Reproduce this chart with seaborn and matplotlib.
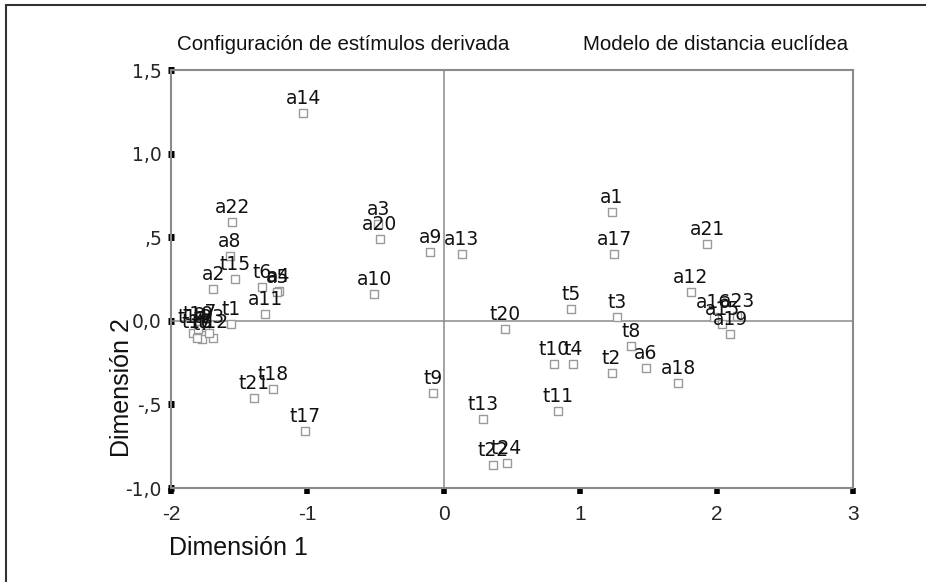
import matplotlib
matplotlib.use("Agg")
import matplotlib.pyplot as plt
from matplotlib.lines import Line2D
import seaborn as sns
import pandas as pd

# Derived stimulus configuration (Euclidean distance model)
labels = ["a1", "a2", "a3", "a4", "a5", "a6", "a7", "a8", "a9", "a10",
          "a11", "a12", "a13", "a14", "a15", "a16", "a17", "a18", "a19", "a20",
          "a21", "a22", "a23",
          "t1", "t2", "t3", "t4", "t5", "t6", "t7", "t8", "t9", "t10",
          "t11", "t12", "t13", "t14", "t15", "t16", "t17", "t18", "t19", "t20",
          "t21", "t22", "t23", "t24"]
dim1 = [1.23, -1.69, -0.48, -1.21, -1.22, 1.48, -1.75, -1.57, -0.10, -0.51,
        -1.31, 1.81, 0.13, -1.03, 2.04, 1.98, 1.25, 1.72, 2.10, -0.47,
        1.93, -1.55, 2.15,
        -1.56, 1.23, 1.27, 0.95, 0.93, -1.33, -1.77, 1.37, -0.08, 0.81,
        0.84, -1.69, 0.29, -1.84, -1.53, -1.81, -1.02, -1.25, -1.80, 0.45,
        -1.39, 0.36, -1.72, 0.46]
dim2 = [0.65, 0.19, 0.58, 0.18, 0.17, -0.28, -0.04, 0.39, 0.41, 0.16,
        0.04, 0.17, 0.40, 1.24, -0.02, 0.02, 0.40, -0.37, -0.08, 0.49,
        0.46, 0.59, 0.03,
        -0.02, -0.31, 0.02, -0.26, 0.07, 0.20, -0.11, -0.15, -0.43, -0.26,
        -0.54, -0.10, -0.59, -0.07, 0.25, -0.10, -0.66, -0.41, -0.05, -0.05,
        -0.46, -0.86, -0.07, -0.85]

x_ticks = [-2, -1, 0, 1, 2, 3]
y_ticks = [-1.0, -0.5, 0.0, 0.5, 1.0, 1.5]
y_tick_labels = ["-1,0", "-,5", "0,0", ",5", "1,0", "1,5"]

df = pd.DataFrame({"label": labels, "Dimensión 1": dim1, "Dimensión 2": dim2})

sns.set_style("white")
plt.rcParams["font.family"] = ["DejaVu Sans"]
narrow = ["Liberation Sans Narrow", "Liberation Sans", "DejaVu Sans"]

fig = plt.figure(figsize=(9.26, 5.82), dpi=100)
ax = fig.add_axes([171 / 926, 1 - 488 / 582, (853 - 171) / 926, (488 - 70) / 582])

sns.scatterplot(data=df, x="Dimensión 1", y="Dimensión 2", ax=ax,
                marker="s", s=28, color="white", edgecolor="#9a9a9a",
                linewidth=1.0, zorder=3, legend=False)

# reference lines through the origin
ax.axvline(0, color="#8a8a8a", lw=1.1, zorder=1)
ax.axhline(0, color="#8a8a8a", lw=1.1, zorder=1)

for lab, x, y in zip(labels, dim1, dim2):
    ax.annotate(lab, (x, y), xytext=(0, 6.5), textcoords="offset points",
                ha="center", va="baseline", fontsize=13.5, color="#111111",
                zorder=4)

ax.set_xlim(-2, 3)
ax.set_ylim(-1.0, 1.5)
ax.set_xticks(x_ticks)
ax.set_xticklabels([str(v) for v in x_ticks], family=narrow, fontsize=15)
ax.set_yticks(y_ticks)
ax.set_yticklabels(y_tick_labels, fontsize=13.5)

ax.tick_params(axis="y", left=True, direction="inout", length=5, width=5,
               color="black", pad=4)
ax.tick_params(axis="x", bottom=True, direction="out", length=4, width=4,
               color="black", pad=8)

for side in ["left", "right", "top", "bottom"]:
    ax.spines[side].set_visible(True)
    ax.spines[side].set_color("#8a8a8a")
    ax.spines[side].set_linewidth(1.5)

ax.set_xlabel("")
ax.set_ylabel("")

fig.text(169 / 926, 1 - 548 / 582, "Dimensión 1", family=narrow,
         fontsize=18, ha="left", va="center", color="#111111")
fig.text(122 / 926, 1 - 388 / 582, "Dimensión 2", family=narrow,
         fontsize=18, ha="center", va="center", rotation=90, color="#111111")

fig.text(177 / 926, 1 - 45 / 582, "Configuración de estímulos derivada",
         family=narrow, fontsize=14.8, ha="left", va="center", color="#111111")
fig.text(583 / 926, 1 - 45 / 582, "Modelo de distancia euclídea",
         family=narrow, fontsize=14.8, ha="left", va="center", color="#111111")

# outer frame lines on the left and top of the figure
fig.add_artist(Line2D([6 / 926, 6 / 926], [0, 1 - 5 / 582],
                      transform=fig.transFigure, color="#333333", lw=1.5))
fig.add_artist(Line2D([6 / 926, 1], [1 - 5 / 582, 1 - 5 / 582],
                      transform=fig.transFigure, color="#333333", lw=1.5))

fig.savefig("out.png", dpi=100)
